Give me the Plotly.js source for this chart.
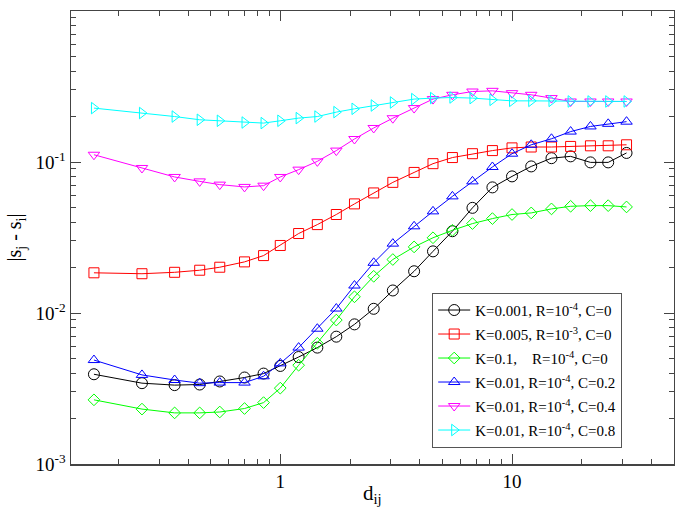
<!DOCTYPE html>
<html>
<head>
<meta charset="utf-8">
<script src="https://cdn.plot.ly/plotly-3.0.1.min.js"></script>
<style>
  html, body { margin: 0; padding: 0; background: #fff; }
  #chart { width: 675px; height: 521px; }
</style>
</head>
<body>
<div id="chart"></div>
<script>
// distance bins d_ij (shared by all series)
const dij = [0.157, 0.253, 0.35, 0.449, 0.548, 0.701, 0.847, 1.0, 1.2, 1.445, 1.745, 2.09, 2.53, 3.06, 3.78, 4.56, 5.53, 6.75, 8.23, 10.0, 12.1, 14.8, 17.9, 21.8, 26.0, 31.2];

// |s_j - s_i| for each parameter set
const sK001_R4_C0 = [0.00393, 0.00343, 0.00333, 0.00336, 0.00352, 0.00374, 0.00397, 0.00446, 0.00511, 0.0059, 0.00697, 0.00841, 0.01066, 0.0141, 0.0189, 0.0256, 0.0348, 0.0497, 0.0679, 0.0803, 0.0935, 0.106, 0.109, 0.0994, 0.0994, 0.1148];
const sK005_R3_C0 = [0.01846, 0.0182, 0.0186, 0.0192, 0.0201, 0.0218, 0.0240, 0.0280, 0.0336, 0.0385, 0.0449, 0.0528, 0.0624, 0.0733, 0.0853, 0.0975, 0.107, 0.1135, 0.119, 0.124, 0.1257, 0.1257, 0.1268, 0.128, 0.128, 0.130];
const sK1_R4_C0 = [0.00266, 0.00231, 0.00218, 0.00218, 0.00221, 0.00233, 0.00255, 0.00318, 0.00451, 0.0063, 0.00898, 0.0128, 0.0175, 0.0226, 0.0274, 0.0315, 0.0353, 0.0391, 0.0422, 0.0449, 0.046, 0.0489, 0.0509, 0.0514, 0.0514, 0.0504];
const sK01_R4_C02 = [0.00488, 0.00389, 0.0036, 0.00343, 0.00346, 0.00346, 0.00381, 0.00464, 0.0059, 0.00787, 0.0107, 0.0152, 0.0215, 0.0288, 0.0375, 0.0471, 0.0592, 0.0744, 0.0927, 0.1135, 0.130, 0.1425, 0.159, 0.172, 0.179, 0.185];
const sK01_R4_C04 = [0.1117, 0.0913, 0.0796, 0.0744, 0.0708, 0.0684, 0.0697, 0.0796, 0.089, 0.101, 0.119, 0.142, 0.168, 0.195, 0.2276, 0.261, 0.2786, 0.293, 0.296, 0.2857, 0.2786, 0.265, 0.2517, 0.2517, 0.2517, 0.2517];
const sK01_R4_C08 = [0.2275, 0.211, 0.200, 0.1904, 0.1875, 0.1826, 0.181, 0.1875, 0.1953, 0.200, 0.214, 0.225, 0.2367, 0.2478, 0.261, 0.265, 0.2674, 0.265, 0.258, 0.254, 0.254, 0.254, 0.2517, 0.2517, 0.2517, 0.2517];

const seriesNames = [
  'K=0.001, R=10<sup>-4</sup>, C=0',
  'K=0.005, R=10<sup>-3</sup>, C=0',
  'K=0.1,\u00A0\u00A0\u00A0\u00A0R=10<sup>-4</sup>, C=0',
  'K=0.01, R=10<sup>-4</sup>, C=0.2',
  'K=0.01, R=10<sup>-4</sup>, C=0.4',
  'K=0.01, R=10<sup>-4</sup>, C=0.8'
];
const seriesValues = [sK001_R4_C0, sK005_R3_C0, sK1_R4_C0, sK01_R4_C02, sK01_R4_C04, sK01_R4_C08];

const yTickVals = [0.001, 0.01, 0.1, 1];
const yTickText = ['10<sup>-3</sup>', '10<sup>-2</sup>', '10<sup>-1</sup>', '10<sup>0</sup>'];
const xTickVals = [1, 10];
const xTickText = ['1', '10'];
const xTitle = 'd<sub>ij</sub>';
const yTitle = '|s<sub>j</sub> - s<sub>i</sub>|';

// styling
const colors = ['#000000', '#ff0000', '#00ff00', '#0000ff', '#ff00ff', '#00ffff'];
const symbols = ['circle-open', 'square-open', 'diamond-open', 'triangle-up-open', 'triangle-down-open', 'triangle-right-open'];
const sizes = [11, 10, 9, 10, 10, 10];

const traces = seriesValues.map((vals, i) => ({
  x: dij,
  y: vals,
  name: seriesNames[i],
  legendgroup: 'g' + i,
  type: 'scatter',
  mode: 'lines+markers',
  line: { color: colors[i], width: 1 },
  marker: { symbol: symbols[i], size: sizes[i], color: colors[i], line: { color: colors[i], width: 1 } }
}));

function minorLog(lo, hi) {
  const out = [];
  for (let e = lo; e < hi; e++) {
    for (let m = 2; m <= 9; m++) out.push(m * Math.pow(10, e));
  }
  return out;
}

const axisColor = '#444';
const serif = '"Liberation Serif", "Times New Roman", Times, serif';

const layout = {
  width: 675,
  height: 521,
  margin: { l: 71, r: 1, t: 11, b: 57 },
  paper_bgcolor: '#fff',
  plot_bgcolor: '#fff',
  font: { family: serif, color: '#000' },
  showlegend: true,
  legend: {
    x: 0.599, y: 0.378, xanchor: 'left', yanchor: 'top',
    bgcolor: '#fff', bordercolor: '#555', borderwidth: 1,
    font: { family: serif, size: 15, color: '#000' },
    itemwidth: 32,
    tracegroupgap: 1.5,
    traceorder: 'grouped'
  },
  annotations: [{
    text: xTitle, xref: 'paper', yref: 'paper', x: 0.5, y: -0.067,
    xanchor: 'center', yanchor: 'middle', showarrow: false,
    font: { family: serif, size: 21, color: '#000' }
  }],
  xaxis: {
    type: 'log',
    range: [Math.log10(0.125), Math.log10(50)],
    tickmode: 'array', tickvals: xTickVals, ticktext: xTickText,
    ticks: 'inside', ticklen: 10, tickwidth: 1, tickcolor: axisColor,
    minor: { tickmode: 'array', tickvals: minorLog(-1, 2), ticks: 'inside', ticklen: 5, tickwidth: 1, tickcolor: axisColor, showgrid: false },
    showline: true, linecolor: axisColor, linewidth: 1.5, mirror: 'ticks',
    showgrid: false, zeroline: false,
    tickfont: { family: serif, size: 19, color: '#000' },
    automargin: false
  },
  yaxis: {
    type: 'log',
    range: [-3, 0],
    tickmode: 'array', tickvals: yTickVals, ticktext: yTickText,
    ticks: 'inside', ticklen: 10, tickwidth: 1, tickcolor: axisColor,
    minor: { tickmode: 'array', tickvals: minorLog(-3, 0), ticks: 'inside', ticklen: 5, tickwidth: 1, tickcolor: axisColor, showgrid: false },
    showline: true, linecolor: axisColor, linewidth: 1.5, mirror: 'ticks',
    showgrid: false, zeroline: false,
    tickfont: { family: serif, size: 19, color: '#000' },
    title: { text: yTitle, font: { family: serif, size: 20, color: '#000' }, standoff: 8 },
    automargin: false
  }
};

Plotly.newPlot('chart', traces, layout, { displayModeBar: false, staticPlot: true });
</script>
</body>
</html>
